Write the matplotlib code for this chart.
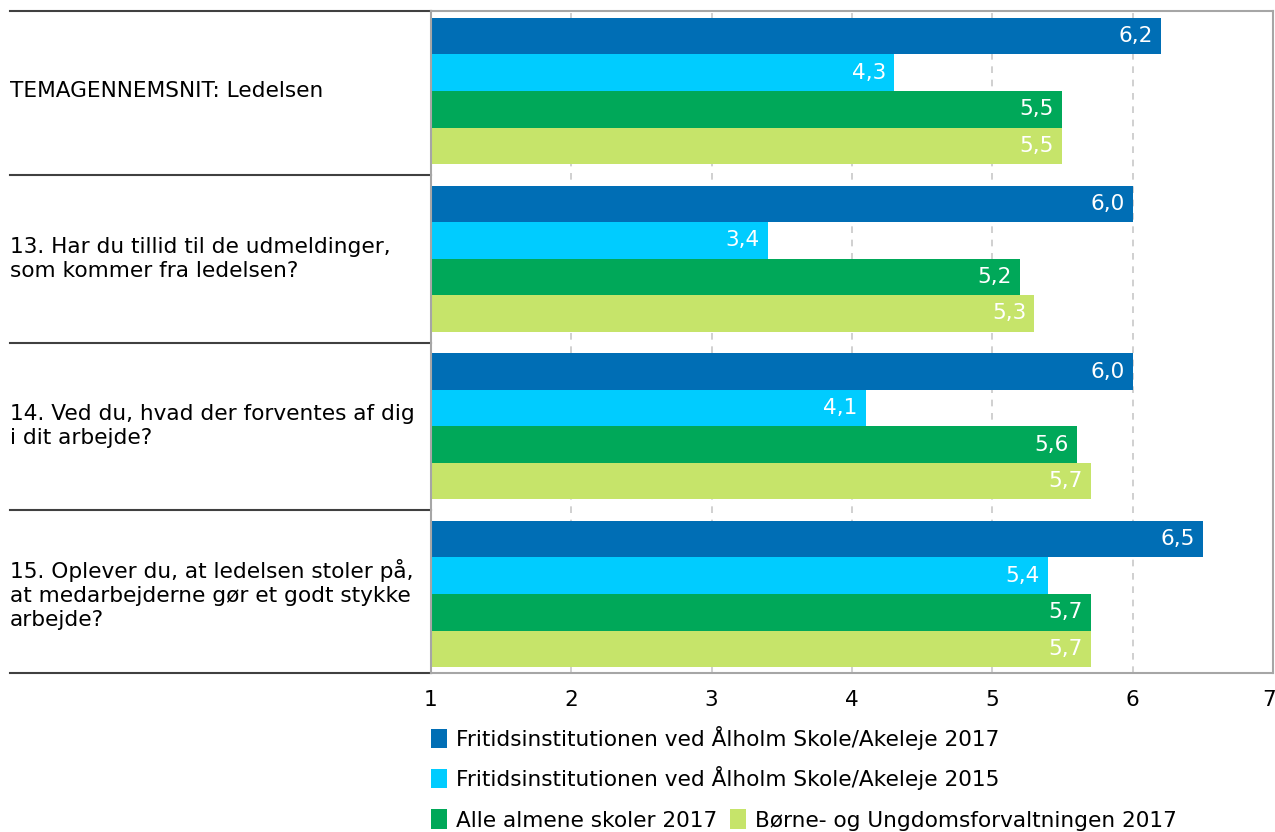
import matplotlib.pyplot as plt
import numpy as np
from matplotlib.transforms import blended_transform_factory, ScaledTranslation

categories = [
    "TEMAGENNEMSNIT: Ledelsen",
    "13. Har du tillid til de udmeldinger,\nsom kommer fra ledelsen?",
    "14. Ved du, hvad der forventes af dig\ni dit arbejde?",
    "15. Oplever du, at ledelsen stoler på,\nat medarbejderne gør et godt stykke\narbejde?",
]
series_names = [
    "Fritidsinstitutionen ved Ålholm Skole/Akeleje 2017",
    "Fritidsinstitutionen ved Ålholm Skole/Akeleje 2015",
    "Alle almene skoler 2017",
    "Børne- og Ungdomsforvaltningen 2017",
]
fri_2017 = [6.2, 6.0, 6.0, 6.5]
fri_2015 = [4.3, 3.4, 4.1, 5.4]
alle_2017 = [5.5, 5.2, 5.6, 5.7]
buf_2017 = [5.5, 5.3, 5.7, 5.7]
x_ticks = [1, 2, 3, 4, 5, 6, 7]

colors = ["#006EB5", "#00CCFF", "#00A859", "#C6E46A"]

plt.rcParams['font.family'] = ['DejaVu Sans']
fs = 15.6

fig = plt.figure(figsize=(12.75, 8.32), dpi=100)
ax = fig.add_axes([431 / 1275, 1 - 673 / 832, (1273 - 431) / 1275, (673 - 11) / 832])

y = np.arange(len(categories))
h = 0.218
offsets = np.array([-1.5, -0.5, 0.5, 1.5]) * h
handles = []
for vals, off, col, name in zip([fri_2017, fri_2015, alle_2017, buf_2017], offsets, colors, series_names):
    bars = ax.barh(y + off, np.array(vals) - 1, left=1, height=h, color=col, label=name, zorder=2)
    handles.append(bars)
    for yy, v in zip(y + off, vals):
        ax.annotate(f"{v:.1f}".replace(".", ","), xy=(v, yy), xytext=(-6, 0),
                    textcoords="offset points", ha="right", va="center",
                    color="white", fontsize=fs, zorder=3)

y_top, y_bot = -0.477, 3.471
ax.set_xlim(1, 7)
ax.set_ylim(y_bot, y_top)
ax.set_xticks(x_ticks)
ax.set_xticklabels([str(t) for t in x_ticks], fontsize=fs)
ax.tick_params(axis='x', length=0, pad=12)
last = ax.get_xticklabels()[-1]
last.set_ha("right")
last.set_transform(last.get_transform() + ScaledTranslation(3 / 100, 0, fig.dpi_scale_trans))
ax.set_yticks([])
for xv in x_ticks[1:-1]:
    ax.axvline(xv, color="#c8c8c8", linestyle=(0, (4, 4)), linewidth=1.2, zorder=1)
for sp in ax.spines.values():
    sp.set_color("#a6a6a6")
    sp.set_linewidth(1.5)

# category separators and labels on the left
trans = blended_transform_factory(ax.transAxes, ax.transData)
x_left = (10 - 431) / (1273 - 431)
for b in [y_top, 0.5, 1.5, 2.5, y_bot]:
    ax.plot([x_left, 0], [b, b], color="#404040", linewidth=1.5, transform=trans, clip_on=False)
for yy, cat in zip(y, categories):
    ax.text(x_left, yy, cat, transform=trans, ha="left", va="center", fontsize=fs,
            linespacing=1.25)

# legend rows
leg_kw = dict(loc="center left", frameon=False, fontsize=fs, handlelength=0.75,
              handleheight=1.0, handletextpad=0.4, borderaxespad=0, borderpad=0,
              columnspacing=0.6)
fig.legend(handles=[handles[0]], labels=[series_names[0]],
           bbox_to_anchor=(431 / 1275, 1 - 738 / 832), **leg_kw)
fig.legend(handles=[handles[1]], labels=[series_names[1]],
           bbox_to_anchor=(431 / 1275, 1 - 778 / 832), **leg_kw)
fig.legend(handles=handles[2:], labels=series_names[2:], ncol=2,
           bbox_to_anchor=(431 / 1275, 1 - 820 / 832), **leg_kw)

fig.savefig("out.png", dpi=100)
